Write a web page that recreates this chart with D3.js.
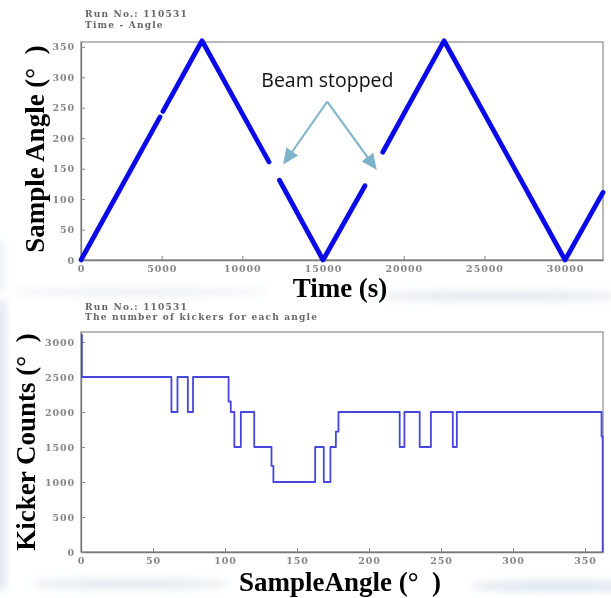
<!DOCTYPE html>
<html lang="en">
  <head>
    <meta charset="utf-8">
    <title>Run 110531</title>
    <script src="https://d3js.org/d3.v7.min.js"></script>
    <style>
      body { margin: 0; background: #fff; }
      .tick text { font-family: "DejaVu Serif", serif; font-weight: bold; font-size: 9.5px; fill: #858585; letter-spacing: 0.9px; }
      .tick line { stroke: #888; }
      .domain { stroke: #777; stroke-width: 1.3; }
      .runinfo { font-family: "DejaVu Serif", serif; font-weight: bold; font-size: 9px; fill: #666; letter-spacing: 1.2px; }
      .atitle { font-family: "Liberation Serif", "Times New Roman", serif; font-weight: bold; font-size: 27px; fill: #000; }
    </style>
  </head>
  <body>
    <div id="chart"></div>
    <script>
      // --- top panel: sample angle vs time, split where the beam stopped ---
      var segTimes = [
        [0, 4900],
        [5080, 7500, 11650],
        [12300, 15000, 17600],
        [18700, 22500, 30000, 32350]
      ];
      var segAngles = [
        [0, 235],
        [244, 360, 161],
        [131, 0, 122],
        [177, 360, 0, 111]
      ];
      var timeTicks = [0, 5000, 10000, 15000, 20000, 25000, 30000];
      var angleTicks = [0, 50, 100, 150, 200, 250, 300, 350];

      // --- bottom panel: kicker counts per angle (step function) ---
      var stepAngles = [0, 0.6, 62.8, 67, 74.2, 77.8, 102.5, 104, 106.5, 111, 120.3, 132.3, 133.6,
                        162.6, 168.6, 173.2, 177, 178.8, 221.3, 224.6, 235.2, 243, 258.2, 261, 361.5, 362.3];
      var stepCounts = [3100, 2500, 2000, 2500, 2000, 2500, 2150, 2000, 1500, 2000, 1500, 1230, 1000,
                        1500, 1000, 1500, 1720, 2000, 1500, 2000, 1500, 2000, 1500, 2000, 1650, 0];
      var angleTicks2 = [0, 50, 100, 150, 200, 250, 300, 350];
      var countTicks = [0, 500, 1000, 1500, 2000, 2500, 3000];

      var W = 611, H = 598;
      var fmt = d3.format('d');
      var svg = d3.select('#chart').append('svg')
          .attr('width', W).attr('height', H);

      // faint slide background streaks
      var defs = svg.append('defs');
      defs.append('filter').attr('id', 'blur')
        .attr('x', '-50%').attr('y', '-50%').attr('width', '200%').attr('height', '200%')
        .append('feGaussianBlur').attr('stdDeviation', 4);
      var bg = svg.append('g').attr('filter', 'url(#blur)').attr('fill', '#c9d7e6');
      bg.append('ellipse').attr('cx', 140).attr('cy', 292).attr('rx', 130).attr('ry', 3).attr('opacity', 0.5);
      bg.append('ellipse').attr('cx', 500).attr('cy', 296).attr('rx', 120).attr('ry', 4).attr('opacity', 0.7);
      bg.append('rect').attr('x', -6).attr('y', 300).attr('width', 12).attr('height', 290).attr('opacity', 0.6);
      bg.append('ellipse').attr('cx', 130).attr('cy', 584).attr('rx', 100).attr('ry', 4).attr('opacity', 0.7);
      bg.append('ellipse').attr('cx', 560).attr('cy', 586).attr('rx', 90).attr('ry', 5).attr('opacity', 0.7);
      bg.append('rect').attr('x', -6).attr('y', 240).attr('width', 10).attr('height', 50).attr('opacity', 0.4);

      // ===== top panel =====
      var x1 = d3.scaleLinear().domain([0, 32350]).range([81, 603]);
      var y1 = d3.scaleLinear().domain([0, 358]).range([260, 42]);

      svg.append('rect').attr('x', 81).attr('y', 42).attr('width', 522).attr('height', 218)
        .attr('fill', '#fff').attr('stroke', '#8a8a8a').attr('stroke-width', 1.2);

      svg.append('g').attr('transform', 'translate(0,260)')
        .call(d3.axisBottom(x1).tickValues(timeTicks).tickFormat(fmt).tickSize(-4).tickPadding(5).tickSizeOuter(0));
      svg.append('g').attr('transform', 'translate(81,0)')
        .call(d3.axisLeft(y1).tickValues(angleTicks).tickFormat(fmt).tickSize(-4).tickPadding(6).tickSizeOuter(0));

      var line1 = d3.line().x(d => x1(d[0])).y(d => y1(d[1]));
      svg.append('g').selectAll('path')
        .data(segTimes.map((ts, i) => ts.map((t, j) => [t, segAngles[i][j]])))
        .enter().append('path')
          .attr('d', line1)
          .attr('fill', 'none')
          .attr('stroke', '#0a0ae8')
          .attr('stroke-width', 4.8)
          .attr('stroke-linecap', 'round')
          .attr('stroke-linejoin', 'round');

      svg.append('text').attr('class', 'runinfo').attr('x', 85).attr('y', 17).text('Run No.: 110531');
      svg.append('text').attr('class', 'runinfo').attr('x', 85).attr('y', 28).text('Time - Angle');

      svg.append('text').attr('class', 'atitle')
        .attr('transform', 'translate(44,149) rotate(-90)')
        .attr('text-anchor', 'middle')
        .text('Sample Angle (°\u2002)');
      svg.append('text').attr('class', 'atitle')
        .attr('x', 340).attr('y', 297).attr('text-anchor', 'middle')
        .text('Time (s)');

      // annotation
      var arrowCol = '#7db3c9';
      defs.append('marker').attr('id', 'ah')
        .attr('viewBox', '0 0 10 10').attr('refX', 8).attr('refY', 5)
        .attr('markerWidth', 8).attr('markerHeight', 8).attr('markerUnits', 'strokeWidth')
        .attr('orient', 'auto')
        .append('path').attr('d', 'M0,0.5 L10,5 L0,9.5 Z').attr('fill', arrowCol);
      svg.append('text')
        .attr('x', x1(15270)).attr('y', y1(283.5))
        .attr('text-anchor', 'middle')
        .style('font-family', '"Open Sans", sans-serif').style('font-size', '19.5px').style('fill', '#111')
        .text('Beam stopped');
      [[12640, 161], [18215, 152]].forEach(function (tip) {
        svg.append('line')
          .attr('x1', x1(15260)).attr('y1', y1(260))
          .attr('x2', x1(tip[0])).attr('y2', y1(tip[1]))
          .attr('stroke', arrowCol).attr('stroke-width', 2)
          .attr('marker-end', 'url(#ah)');
      });

      // ===== bottom panel =====
      var x2 = d3.scaleLinear().domain([0, 362.5]).range([81, 603]);
      var y2 = d3.scaleLinear().domain([0, 3143]).range([552, 332]);

      svg.append('rect').attr('x', 81).attr('y', 332).attr('width', 522).attr('height', 220)
        .attr('fill', '#fff').attr('stroke', '#8a8a8a').attr('stroke-width', 1.2);

      svg.append('g').attr('transform', 'translate(0,552)')
        .call(d3.axisBottom(x2).tickValues(angleTicks2).tickFormat(fmt).tickSize(-4).tickPadding(5).tickSizeOuter(0));
      svg.append('g').attr('transform', 'translate(81,0)')
        .call(d3.axisLeft(y2).tickValues(countTicks).tickFormat(fmt).tickSize(-4).tickPadding(6).tickSizeOuter(0));

      var line2 = d3.line().x((d, i) => x2(stepAngles[i])).y((d, i) => y2(stepCounts[i])).curve(d3.curveStepAfter);
      svg.append('path')
        .attr('d', line2(stepAngles))
        .attr('fill', 'none')
        .attr('stroke', '#4646dc')
        .attr('stroke-width', 1.8)
        .attr('stroke-linejoin', 'round');

      svg.append('text').attr('class', 'runinfo').attr('x', 85).attr('y', 310).text('Run No.: 110531');
      svg.append('text').attr('class', 'runinfo').attr('x', 85).attr('y', 320).text('The number of kickers for each angle');

      svg.append('text').attr('class', 'atitle')
        .attr('transform', 'translate(35,442) rotate(-90)')
        .attr('text-anchor', 'middle')
        .text('Kicker Counts (°\u2002)');
      svg.append('text').attr('class', 'atitle')
        .attr('x', 340).attr('y', 591).attr('text-anchor', 'middle')
        .text('SampleAngle (°\u2002)');
    </script>
  </body>
</html>
